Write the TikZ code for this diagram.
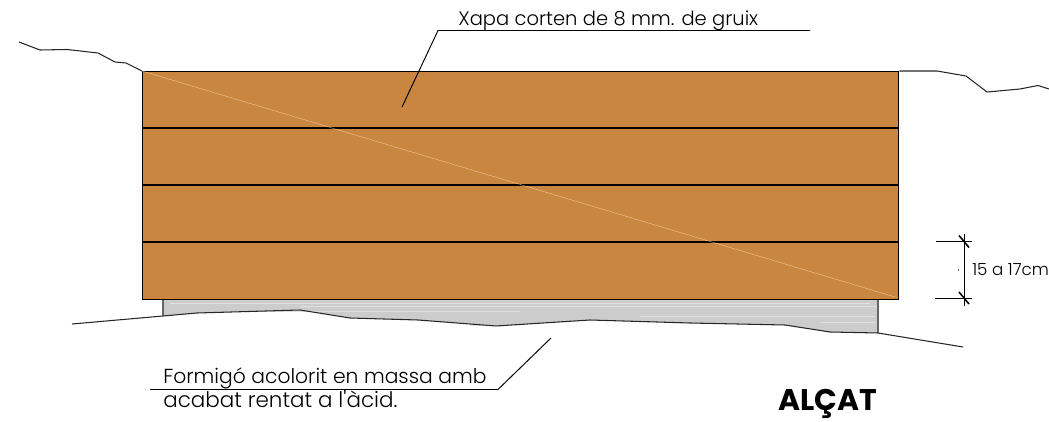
\documentclass[tikz,border=0pt]{standalone}
\usepackage{fontspec}
\setmainfont{Poppins Light}
\newfontfamily\titlefont{Poppins Bold}
\tikzstyle{terrain}=[draw=black!85,line width=0.6pt]
\tikzstyle{leader}=[draw=black,line width=0.55pt]
\tikzstyle{plank}=[draw=black,line width=0.6pt]
\tikzstyle{label}=[font=\fontsize{11.1pt}{12pt}\selectfont,anchor=base west,inner sep=0pt]
\begin{document}
\begin{tikzpicture}[x=0.02cm,y=-0.02cm]
    \useasboundingbox (0,0) rectangle (1049,422);
    % concrete base
    \fill[black!20] (163,299) -- (163,316) -- (197,313) -- (300,310) -- (350,318) -- (418,320) -- (496,326)
        -- (590,320) -- (690,323) -- (785,325) -- (830,332) -- (878,333) -- (878,299) -- cycle;
    \foreach \ya/\xa/\xb in {303/170/870, 306/300/880, 311/230/520, 316/640/875, 322/820/875, 325/470/500}
        \draw[black!12,line width=0.3pt] (\xa,\ya) -- (\xb,\ya);
    \draw[black!60,line width=0.8pt] (163,299) -- (163,316);
    \draw[black!60,line width=0.8pt] (878,299) -- (878,333);

    % corten plate
    \node[draw=black,line width=0.8pt,fill={rgb,255:red,201;green,134;blue,64},minimum width=15.12cm,minimum height=4.56cm,inner sep=0pt,anchor=north west] (plate) at (142,71) {};
    \foreach \ya in {128,185,242}
        \draw[plank] (142,\ya) -- (898,\ya);
    \draw[orange!25!white,opacity=0.6,line width=0.3pt] (plate.north west) -- (895,297);

    % ground lines
    \draw[terrain] (19,42) -- (40,50) -- (67,49.5) -- (98,53) -- (115,62) -- (126,63) -- (plate.north west);
    \draw[terrain] (plate.north east) -- (937,71) -- (966,76) -- (987,92) -- (1020,89) -- (1038,85.5) -- (1049,89);
    \draw[terrain] (72,324) -- (163,316) -- (197,313) -- (300,310) -- (350,318) -- (418,320) -- (496,326)
        -- (590,320) -- (690,323) -- (785,325) -- (830,332) -- (878,333) -- (963,347);

    % leaders and labels
    \coordinate (xapaend) at (402,107);
    \coordinate (xapakink) at (438,30.5);
    \coordinate (xapafree) at (810,30.5);
    \draw[leader] (xapaend) -- (xapakink) -- (xapafree);
    \node[label] (xapa) at (458,26) {Xapa corten de 8 mm. de gruix};

    \coordinate (formend) at (551,338);
    \coordinate (formkink) at (498,389.5);
    \coordinate (formfree) at (150,389.5);
    \draw[leader] (formend) -- (formkink) -- (formfree);
    \node[label,font=\fontsize{11.55pt}{13pt}\selectfont] (form) at (163,384) {Formigó acolorit en massa amb};
    \node[label,font=\fontsize{12.2pt}{13pt}\selectfont] (acabat) at (163,408) {acabat rentat a l\textquotesingle àcid.};

    \node[label,font=\titlefont\fontsize{17pt}{18pt}\selectfont] (alcat) at (778,411) {ALÇAT};

    % dimension
    \coordinate (dima) at (964,241.5);
    \coordinate (dimb) at (964,298);
    \draw[leader] (936,241.5) -- (972,241.5);
    \draw[leader] (935,298) -- (972,298);
    \draw[leader] (964,234) -- (964,306);
    \foreach \p in {dima,dimb}
        \draw[black,line width=0.9pt] (\p) +(-5,-6) -- +(5,6);
    \node[circle,fill=black,inner sep=0pt,minimum size=0.6pt] (dimdot) at (958.5,270) {};
    \node[label,font=\fontsize{9.5pt}{10pt}\selectfont] (dimtext) at (972,276) {15 a 17cm};
\end{tikzpicture}
\end{document}
